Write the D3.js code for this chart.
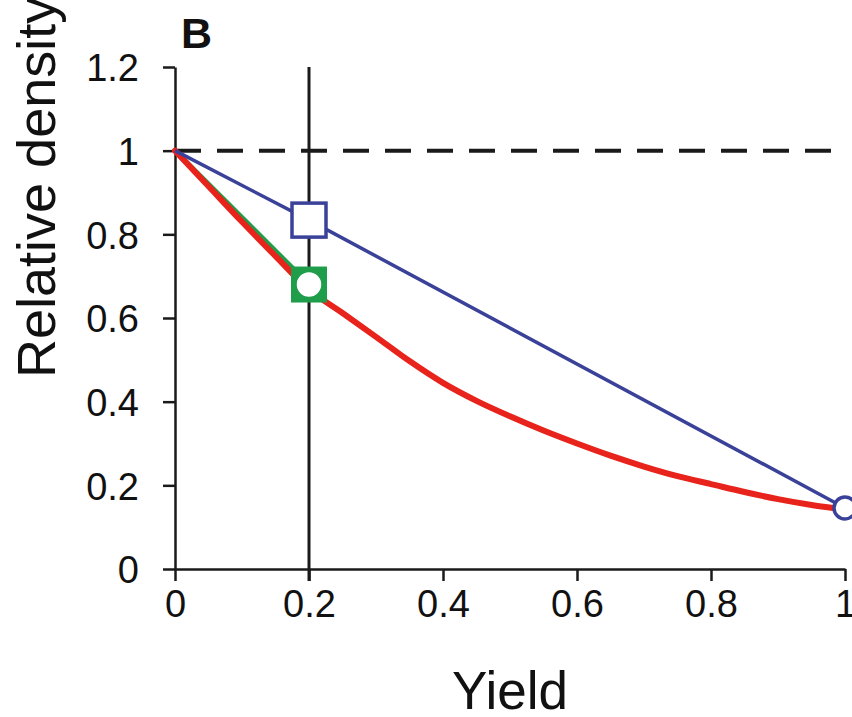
<!DOCTYPE html>
<html>
<head>
<meta charset="utf-8">
<script src="https://cdn.jsdelivr.net/npm/d3@7"></script>
<style>
  html, body { margin: 0; padding: 0; background: #fff; }
  svg { display: block; font-family: "Liberation Sans", Arial, Helvetica, sans-serif; }
</style>
</head>
<body>
<svg id="chart" width="852" height="717"></svg>
<script>
// ---- data ----
const xTicks = [0, 0.2, 0.4, 0.6, 0.8, 1];
const xTickLabels = ["0", "0.2", "0.4", "0.6", "0.8", "1"];
const yTicks = [0, 0.2, 0.4, 0.6, 0.8, 1, 1.2];
const yTickLabels = ["0", "0.2", "0.4", "0.6", "0.8", "1", "1.2"];

const blueX = [0, 0.2, 1];
const blueY = [1, 0.834, 0.146];
const greenX = [0, 0.2];
const greenY = [1, 0.68];
const redX = [0, 0.05, 0.1, 0.15, 0.2, 0.25, 0.3, 0.35, 0.4, 0.45, 0.5, 0.55, 0.6, 0.65, 0.7, 0.75, 0.8, 0.85, 0.9, 0.95, 0.985];
const redY = [1, 0.915, 0.83, 0.748, 0.668, 0.612, 0.555, 0.497, 0.445, 0.402, 0.365, 0.331, 0.300, 0.271, 0.245, 0.222, 0.203, 0.184, 0.167, 0.153, 0.145];

const refYield = 0.2;     // vertical reference line
const refDensity = 1;     // dashed horizontal reference

// ---- layout ----
const svg = d3.select("#chart");
const x = d3.scaleLinear().domain([0, 1]).range([175, 845]);
const y = d3.scaleLinear().domain([0, 1.2]).range([569, 67]);

const BLUE = "#3a4199", RED = "#e8231b", GREEN = "#1f9d4b", AX = "#1a1a1a";

// axes
const xAxis = d3.axisBottom(x).tickValues(xTicks).tickFormat((d, i) => xTickLabels[i]).tickSize(12).tickSizeOuter(0).tickPadding(9);
const yAxis = d3.axisLeft(y).tickValues(yTicks).tickFormat((d, i) => yTickLabels[i]).tickSize(12).tickSizeOuter(0).tickPadding(24);

const gx = svg.append("g").attr("transform", `translate(0,${y(0)})`).call(xAxis);
const gy = svg.append("g").attr("transform", `translate(${x(0)},0)`).call(yAxis);
[gx, gy].forEach(g => {
  g.select(".domain").attr("stroke", AX).attr("stroke-width", 2.5);
  g.selectAll(".tick line").attr("stroke", AX).attr("stroke-width", 2.5);
  g.selectAll(".tick text").attr("fill", "#111").style("font-size", "38px").style("font-family", "'Liberation Sans', Arial, sans-serif");
});
gy.selectAll(".tick text").attr("dy", "0.36em");
gx.selectAll(".tick text").attr("dy", "0.71em");

// axis titles
svg.append("text")
  .attr("x", (x(0) + x(1)) / 2).attr("y", 709)
  .attr("text-anchor", "middle")
  .style("font-size", "53px").attr("fill", "#111")
  .text("Yield");

svg.append("text")
  .attr("transform", `translate(55,378) rotate(-90)`)
  .attr("text-anchor", "start")
  .style("font-size", "54px").attr("fill", "#111")
  .text("Relative density");

// panel letter
svg.append("text")
  .attr("x", 181).attr("y", 48)
  .style("font-size", "43px").style("font-weight", "bold").attr("fill", "#111")
  .text("B");

// reference lines
svg.append("line")
  .attr("x1", x(0)).attr("x2", x(1))
  .attr("y1", y(refDensity)).attr("y2", y(refDensity))
  .attr("stroke", AX).attr("stroke-width", 4)
  .attr("stroke-dasharray", "26,16");

svg.append("line")
  .attr("x1", x(refYield)).attr("x2", x(refYield))
  .attr("y1", y(1.2)).attr("y2", y(0) + 12)
  .attr("stroke", AX).attr("stroke-width", 3);

// series lines
const line = d3.line().x(d => x(d[0])).y(d => y(d[1]));
const curve = d3.line().x(d => x(d[0])).y(d => y(d[1])).curve(d3.curveMonotoneX);

svg.append("path").datum(greenX.map((v, i) => [v, greenY[i]]))
  .attr("d", line).attr("fill", "none").attr("stroke", GREEN).attr("stroke-width", 5);

svg.append("path").datum(redX.map((v, i) => [v, redY[i]]))
  .attr("d", curve).attr("fill", "none").attr("stroke", RED).attr("stroke-width", 6)
  .attr("stroke-linejoin", "round").attr("stroke-linecap", "round");

svg.append("path").datum(blueX.map((v, i) => [v, blueY[i]]))
  .attr("d", line).attr("fill", "none").attr("stroke", BLUE).attr("stroke-width", 3.5);

// markers
const sq = 34;
svg.append("rect")
  .attr("x", x(blueX[1]) - sq / 2).attr("y", y(blueY[1]) - sq / 2)
  .attr("width", sq).attr("height", sq)
  .attr("fill", "#fff").attr("stroke", BLUE).attr("stroke-width", 3.5);

svg.append("rect")
  .attr("x", x(greenX[1]) - sq / 2).attr("y", y(greenY[1]) - sq / 2)
  .attr("width", sq).attr("height", sq)
  .attr("fill", GREEN).attr("stroke", GREEN).attr("stroke-width", 2);
svg.append("circle")
  .attr("cx", x(greenX[1])).attr("cy", y(greenY[1])).attr("r", 13)
  .attr("fill", "#fff").attr("stroke", GREEN).attr("stroke-width", 1.5);

svg.append("circle")
  .attr("cx", x(blueX[2])).attr("cy", y(blueY[2])).attr("r", 11)
  .attr("fill", "#fff").attr("stroke", BLUE).attr("stroke-width", 3.5);
</script>
</body>
</html>
